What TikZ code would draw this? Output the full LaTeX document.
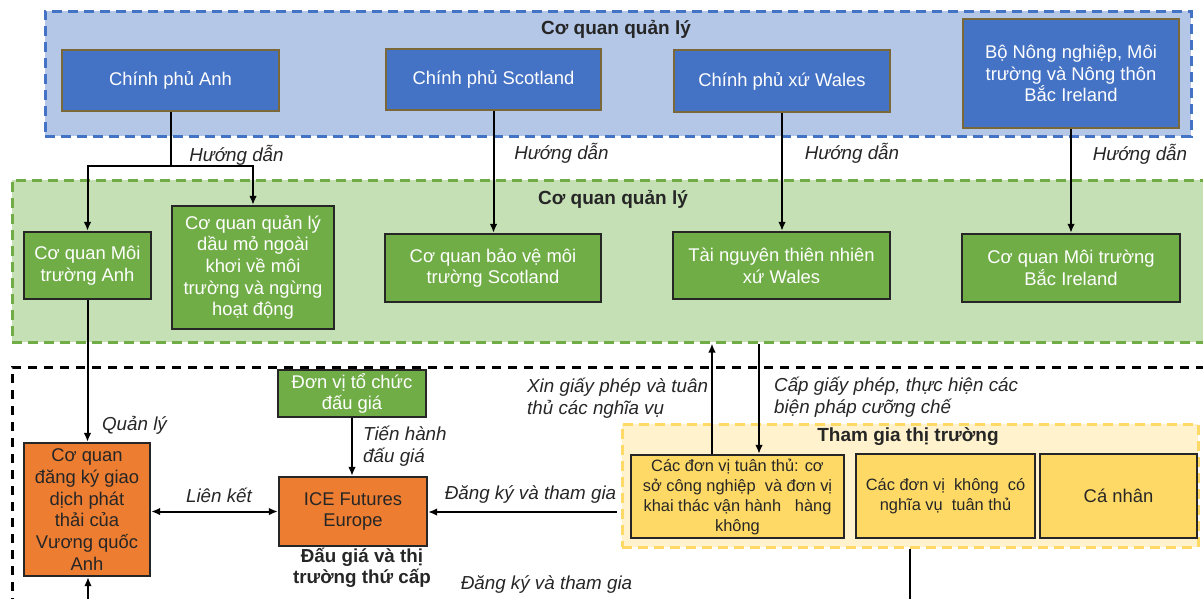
\documentclass[tikz,border=0pt]{standalone}
\usepackage{fontspec}
\setmainfont{Liberation Sans}
\usetikzlibrary{arrows.meta}

\definecolor{govblue}{HTML}{4472C4}
\definecolor{govedge}{HTML}{7A6838}
\definecolor{bluezone}{HTML}{B4C7E7}
\definecolor{agreen}{HTML}{70AD47}
\definecolor{greenzone}{HTML}{C5E0B4}
\definecolor{boxedge}{HTML}{262626}
\definecolor{regorange}{HTML}{ED7D31}
\definecolor{mktyellow}{HTML}{FFD966}
\definecolor{yellowzone}{HTML}{FFF2CC}
\definecolor{labelgray}{HTML}{262626}

\newcommand\fsz[2]{\fontsize{#1}{#2}\selectfont}

\begin{document}
\begin{tikzpicture}[x=1pt,y=-1pt,
  box/.style={draw, line width=2.2pt, inner sep=0pt, align=center, font=\fsz{18.4}{21.7}},
  gov/.style={box, fill=govblue, draw=govedge, text=white},
  agency/.style={box, fill=agreen, draw=boxedge, text=white},
  regbox/.style={box, fill=regorange, draw=boxedge, text=boxedge},
  mktbox/.style={box, fill=mktyellow, draw=boxedge, text=boxedge, font=\fsz{16.4}{20}},
  zone/.style={line width=3pt, dash pattern=on 10pt off 6pt, inner sep=0pt},
  zonetitle/.style={font=\bfseries\fsz{19}{22}, text=boxedge, inner sep=0pt},
  lbl/.style={font=\itshape\fsz{18.8}{22}, text=labelgray, inner sep=0pt, align=left},
  arr/.style={line width=2pt, draw=black, -{Latex[length=9pt,width=7.5pt]}},
  dblarr/.style={line width=2pt, draw=black, {Latex[length=9pt,width=7.5pt]}-{Latex[length=9pt,width=7.5pt]}},
  plain/.style={line width=2pt, draw=black}
]
\useasboundingbox (0,0) rectangle (1203,598);
\clip (0,0) rectangle (1203,598);

% ---------- zones ----------
\node[zone, fill=bluezone, draw=govblue, minimum width=1146pt, minimum height=125pt] (bluez) at (618,73.5) {};
\node[zone, fill=greenzone, draw=agreen, minimum width=1198pt, minimum height=162pt] (greenz) at (611,261) {};
\node[zone, draw=black, dash pattern=on 9pt off 7pt, minimum width=1203pt, minimum height=243pt] (blackz) at (613.5,488.5) {};
\node[zone, fill=yellowzone, draw=mktyellow, minimum width=576pt, minimum height=123pt] (yellowz) at (910,485.5) {};

\node[zonetitle] (bluet) at (616,29) {Cơ quan quản lý};
\node[zonetitle] (greent) at (613,199) {Cơ quan quản lý};
\node[zonetitle] (yellowt) at (908,437) {Tham gia thị trường};

% ---------- governments ----------
\node[gov, minimum width=217pt, minimum height=61pt] (gEng) at (170.5,80.5) {Chính phủ Anh};
\node[gov, minimum width=215pt, minimum height=61pt] (gSco) at (493.5,79.5) {Chính phủ Scotland};
\node[gov, minimum width=216pt, minimum height=62pt] (gWal) at (782,81) {Chính phủ xứ Wales};
\node[gov, minimum width=216pt, minimum height=109pt] (gNI) at (1071,73.5) {Bộ Nông nghiệp, Môi\\trường và Nông thôn\\Bắc Ireland};

% ---------- agencies ----------
\node[agency, minimum width=127pt, minimum height=67pt] (eEng) at (87.5,265.5) {Cơ quan Môi\\trường Anh};
\node[agency, minimum width=162pt, minimum height=123pt] (ope) at (253,267.5) {Cơ quan quản lý\\dầu mỏ ngoài\\khơi về môi\\trường và ngừng\\hoạt động};
\node[agency, minimum width=216pt, minimum height=68pt] (sepa) at (493,268) {Cơ quan bảo vệ môi\\trường Scotland};
\node[agency, minimum width=217pt, minimum height=67pt] (nrw) at (781.5,265.5) {Tài nguyên thiên nhiên\\xứ Wales};
\node[agency, minimum width=218pt, minimum height=68pt] (niea) at (1071,268) {Cơ quan Môi trường\\Bắc Ireland};

% ---------- registry and auctions ----------
\node[regbox, minimum width=126pt, minimum height=133pt] (reg) at (87,509.5) {Cơ quan\\đăng ký giao\\dịch phát\\thải của\\Vương quốc\\Anh};
\node[agency, minimum width=148pt, minimum height=47pt] (auc) at (352,393.5) {Đơn vị tổ chức\\đấu giá};
\node[regbox, minimum width=148pt, minimum height=69pt] (ice) at (353,511.5) {ICE Futures\\Europe};
\node[font=\bfseries\fsz{18.8}{21}, text=boxedge, align=center, inner sep=0pt] (icecap) at (362,568) {Đấu giá và thị\\trường thứ cấp};

% ---------- market participants ----------
\node[mktbox, minimum width=213pt, minimum height=83pt] (comp) at (737.5,496.5) {Các đơn vị tuân thủ: cơ\\sở công nghiệp~ và đơn vị\\khai thác vận hành~~ hàng\\không};
\node[mktbox, minimum width=179pt, minimum height=84pt] (noncomp) at (945.5,496) {Các đơn vị~ không~ có\\nghĩa vụ~ tuân thủ};
\node[mktbox, font=\fsz{18.4}{21.7}, minimum width=157pt, minimum height=84pt] (indiv) at (1118.5,496) {Cá nhân};

% ---------- connectors ----------
\coordinate (split) at (170.5,166);
\draw[plain] (gEng.south) -- (split);
\draw[arr] (split) -| (eEng.north);
\draw[arr] (split) -| (ope.north);
\draw[arr] (gSco.south) -- (gSco.south |- sepa.north);
\draw[arr] (gWal.south) -- (gWal.south |- nrw.north);
\draw[arr] (gNI.south) -- (gNI.south |- niea.north);

\draw[arr] (eEng.south) -- (eEng.south |- reg.north);
\draw[arr] (auc.south) -- (auc.south |- ice.north);
\draw[dblarr] (reg.east |- ice.west) -- (ice.west);

\coordinate (joinsrc) at (617,512);
\draw[arr] (joinsrc) -- (ice.east |- joinsrc);

\coordinate (upx) at (712,0);
\coordinate (downx) at (759,0);
\draw[arr] (comp.north -| upx) -- (greenz.south -| upx);
\draw[arr] (greenz.south -| downx) -- (comp.north -| downx);

\coordinate (regfeed) at (88,610);
\draw[arr] (regfeed) -- (reg.south -| regfeed);
\coordinate (ncout) at (910,610);
\draw[plain] (yellowz.south -| ncout) -- (ncout);

% ---------- labels ----------
\node[lbl] (l1) at (236.5,155) {Hướng dẫn};
\node[lbl] (l2) at (561.5,153) {Hướng dẫn};
\node[lbl] (l3) at (852,153) {Hướng dẫn};
\node[lbl] (l4) at (1140,154) {Hướng dẫn};
\node[lbl] (l5) at (134.5,425) {Quản lý};
\node[lbl, anchor=west] (l6) at (363,446) {Tiến hành\\đấu giá};
\node[lbl] (l7) at (219,495) {Liên kết};
\node[lbl] (l8) at (530.5,495) {Đăng ký và tham gia};
\node[lbl, anchor=west] (l9) at (527,398) {Xin giấy phép và tuân\\thủ các nghĩa vụ};
\node[lbl, anchor=west] (l10) at (774,397) {Cấp giấy phép, thực hiện các\\biện pháp cưỡng chế};
\node[lbl] (l11) at (546.5,585) {Đăng ký và tham gia};
\end{tikzpicture}
\end{document}
